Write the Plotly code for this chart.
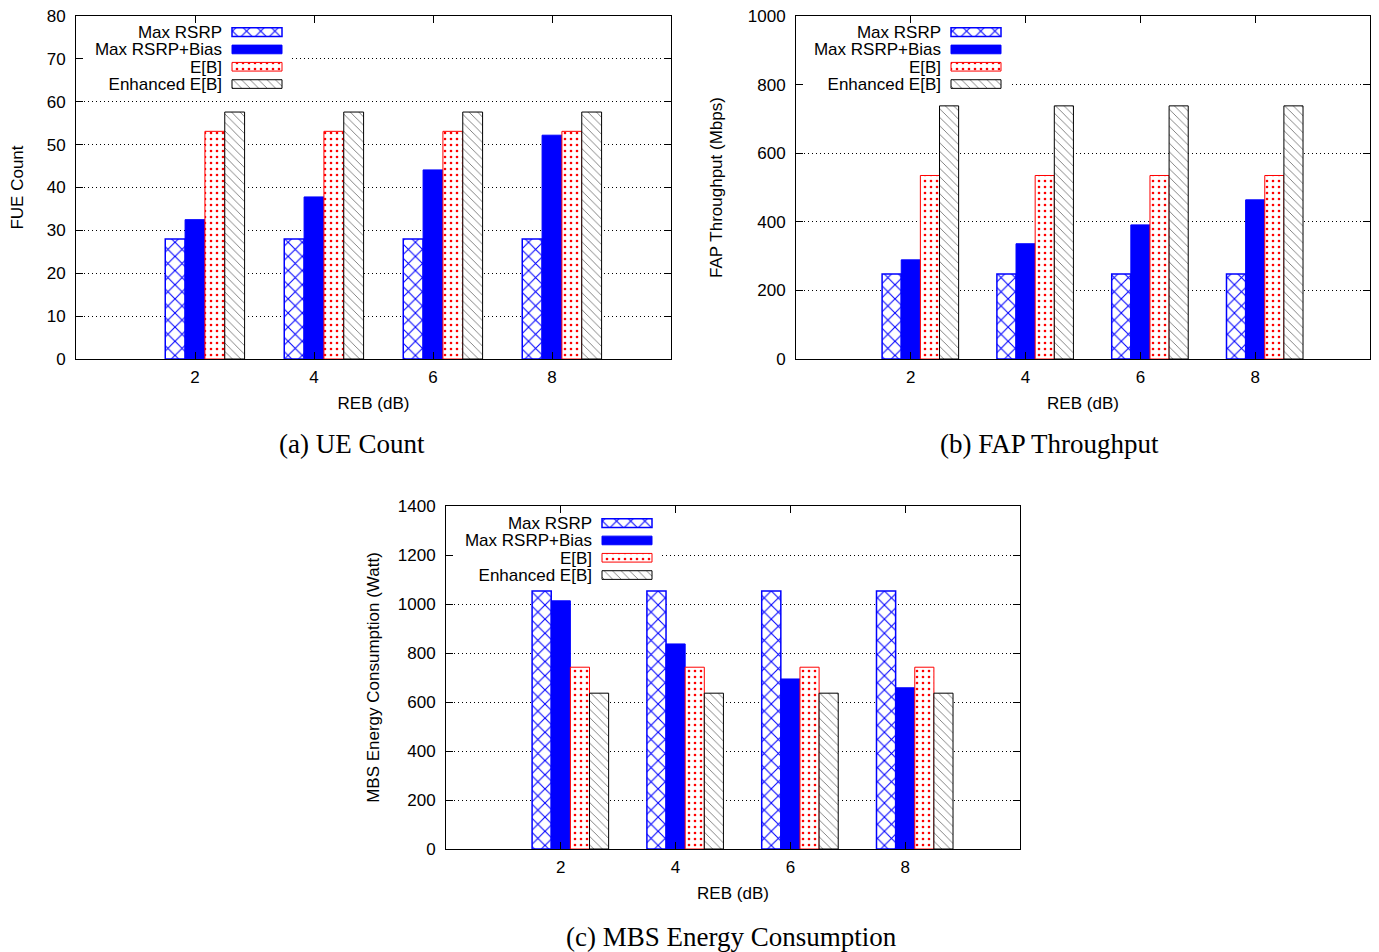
import plotly.graph_objects as go

W, H = 1379, 952

# REB offsets (dB) on the x axis
reb = [2, 4, 6, 8]
series = ["Max RSRP", "Max RSRP+Bias", "E[B]", "Enhanced E[B]"]

# (a) number of femto UEs
fue_max_rsrp = [28, 28, 28, 28]
fue_bias = [32.5, 37.8, 44.1, 52.2]
fue_eb = [53.1, 53.1, 53.1, 53.1]
fue_enh = [57.6, 57.6, 57.6, 57.6]

# (b) femto access point throughput (Mbps)
fap_max_rsrp = [248, 248, 248, 248]
fap_bias = [289, 336, 391, 464]
fap_eb = [535, 535, 535, 535]
fap_enh = [738, 738, 738, 738]

# (c) macro base station energy consumption (Watt)
mbs_max_rsrp = [1053, 1053, 1053, 1053]
mbs_bias = [1013, 837, 694, 658]
mbs_eb = [742, 742, 742, 742]
mbs_enh = [636, 636, 636, 636]

BLUE = "#0000ff"
RED = "#ff0000"
FONT = "Liberation Sans"
SERIF = "Liberation Serif"
FS = 17

STYLES = [
    dict(color="white", line=dict(color=BLUE, width=1.5),
         pattern=dict(shape="x", fgcolor=BLUE, bgcolor="white", size=10, solidity=0.2)),
    dict(color=BLUE, line=dict(color=BLUE, width=1)),
    dict(color="white", line=dict(color=RED, width=1),
         pattern=dict(shape=".", fgcolor=RED, bgcolor="white", size=6, solidity=0.15)),
    dict(color="white", line=dict(color="black", width=1),
         pattern=dict(shape="\\", fgcolor="#555555", bgcolor="white", size=6, solidity=0.12)),
]

BAR_W = 1.0 / 3.0            # bar width in dB units (4 bars + 2 gap slots per 2 dB)
OFFSETS = [-0.5, -1.0 / 6.0, 1.0 / 6.0, 0.5]
ROW = 17.3                   # key row pitch, px


def xdom(p0, p1):
    return [p0 / W, p1 / W]


def ydom(top, bottom):
    return [1 - bottom / H, 1 - top / H]


panels = [
    dict(vals=[fue_max_rsrp, fue_bias, fue_eb, fue_enh], px=(76, 671), py=(16, 359),
         yrange=[0, 80], dtick=10, ytitle="FUE Count", ystand=18,
         caption="(a) UE Count", cap=(352, 444),
         key_x=(232, 282), key_top=23.5, key_box=(84, 291, 24, 94)),
    dict(vals=[fap_max_rsrp, fap_bias, fap_eb, fap_enh], px=(796, 1370), py=(16, 359),
         yrange=[0, 1000], dtick=200, ytitle="FAP Throughput (Mbps)", ystand=20,
         caption="(b) FAP Throughput", cap=(1049, 444),
         key_x=(951, 1001), key_top=23.5, key_box=(804, 1009, 24, 94)),
    dict(vals=[mbs_max_rsrp, mbs_bias, mbs_eb, mbs_enh], px=(446, 1020), py=(506, 849),
         yrange=[0, 1400], dtick=200, ytitle="MBS Energy Consumption (Watt)", ystand=13,
         caption="(c) MBS Energy Consumption", cap=(731, 937),
         key_x=(602, 652), key_top=514.5, key_box=(454, 661, 514, 584)),
]

fig = go.Figure()
layout = dict(
    template="none",
    width=W, height=H, margin=dict(l=0, r=0, t=0, b=0, pad=0),
    paper_bgcolor="white", plot_bgcolor="white", showlegend=False,
    barmode="overlay", font=dict(family=FONT, size=FS, color="black"),
)
annotations = []

for i, p in enumerate(panels):
    n = i + 1
    xa, ya = ("x" if n == 1 else f"x{n}"), ("y" if n == 1 else f"y{n}")
    for s, name in enumerate(series):
        fig.add_trace(go.Bar(
            x=reb, y=p["vals"][s], name=name, width=BAR_W, offset=OFFSETS[s],
            marker=STYLES[s], xaxis=xa, yaxis=ya, hoverinfo="x+y+name"))
    layout[f"xaxis{'' if n == 1 else n}"] = dict(
        domain=xdom(*p["px"]), anchor=ya, range=[0, 10], tickvals=reb,
        ticktext=[str(v) for v in reb], ticks="inside", ticklen=7, tickcolor="black",
        showline=True, linecolor="black", linewidth=1, mirror="ticks",
        showgrid=False, zeroline=False, tickfont=dict(size=FS), automargin=False,
        ticklabelstandoff=3,
        title=dict(text="REB (dB)", font=dict(size=FS), standoff=10))
    layout[f"yaxis{'' if n == 1 else n}"] = dict(
        domain=ydom(*p["py"]), anchor=xa, range=p["yrange"], dtick=p["dtick"],
        ticks="inside", ticklen=7, tickcolor="black",
        showline=True, linecolor="black", linewidth=1, mirror="ticks",
        showgrid=True, gridcolor="black", gridwidth=1, griddash="1px,3px",
        zeroline=False, tickfont=dict(size=FS), automargin=False,
        ticklabelstandoff=6,
        title=dict(text=p["ytitle"], font=dict(size=FS), standoff=p["ystand"]))

    # key: an inset subplot whose white background hides the grid behind it;
    # swatches are short horizontal bars, names are the tick labels of a free y axis
    kx, ky = f"x{n + 3}", f"y{n + 3}"
    bx0, bx1, by0, by1 = p["key_box"]
    sw0, sw1 = p["key_x"]
    base = (sw0 - bx0) / (bx1 - bx0)
    length = (sw1 - sw0) / (bx1 - bx0)
    for s, name in enumerate(series):
        fig.add_trace(go.Bar(
            x=[length], base=[base], y=[name], orientation="h", width=0.5,
            marker=STYLES[s], xaxis=kx, yaxis=ky, hoverinfo="skip"))
    layout[f"xaxis{n + 3}"] = dict(
        domain=xdom(bx0, bx1), anchor=ky, range=[0, 1], visible=False,
        fixedrange=True, automargin=False)
    layout[f"yaxis{n + 3}"] = dict(
        domain=ydom(by0, by1), anchor="free", position=sw0 / W, overlaying=None,
        type="category", categoryorder="array", categoryarray=series,
        tickmode="array", tickvals=series, ticktext=series,
        range=[(by1 - p["key_top"]) / ROW - 0.5, (by0 - p["key_top"]) / ROW - 0.5],
        showgrid=False, zeroline=False, showline=False,
        ticks="", ticklabelstandoff=10, tickfont=dict(size=FS), fixedrange=True,
        automargin=False)

    annotations.append(dict(
        text=p["caption"], xref="paper", yref="paper", x=p["cap"][0] / W,
        y=1 - p["cap"][1] / H, xanchor="center", yanchor="middle", showarrow=False,
        font=dict(family=SERIF, size=27, color="black")))

layout["annotations"] = annotations
fig.update_layout(**layout)
fig.write_html("out.html")
